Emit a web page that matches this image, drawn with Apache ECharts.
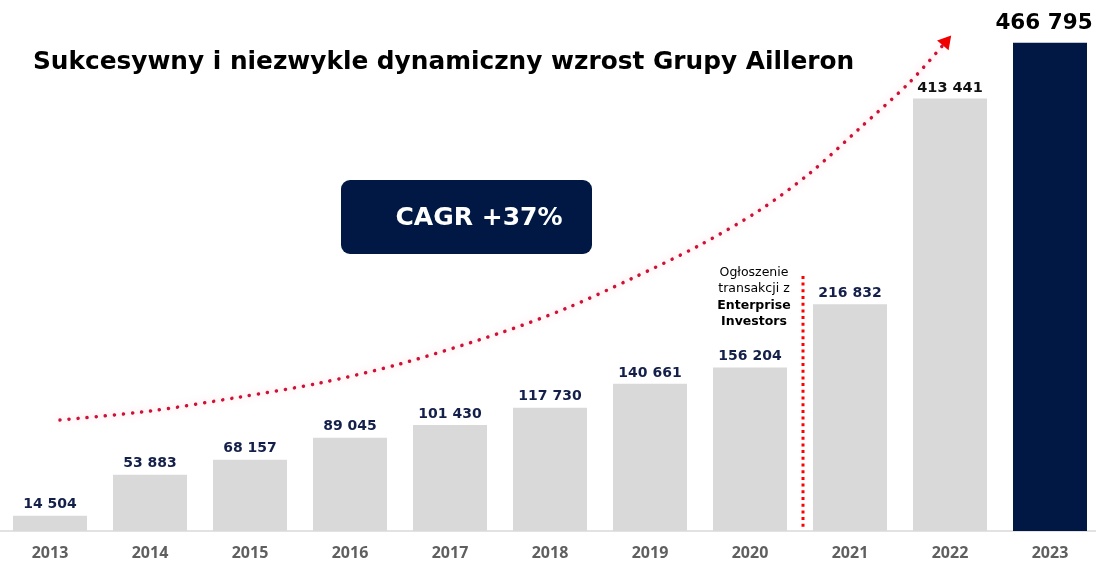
<!DOCTYPE html>
<html>
<head>
<meta charset="utf-8">
<script src="https://cdn.jsdelivr.net/npm/echarts@6/dist/echarts.min.js"></script>
<style>
html,body{margin:0;padding:0;background:#fff;overflow:hidden;}
#chart{width:1096px;height:561px;}
</style>
</head>
<body>
<div id="chart"></div>
<script>
// ---- data ----
const years = ['2013','2014','2015','2016','2017','2018','2019','2020','2021','2022','2023'];
const revenue = [14504, 53883, 68157, 89045, 101430, 117730, 140661, 156204, 216832, 413441, 466795];
const titleText = 'Sukcesywny i niezwykle dynamiczny wzrost Grupy Ailleron';
const cagrText = 'CAGR +37%';
const noteLines = ['Ogłoszenie', 'transakcji z', 'Enterprise', 'Investors'];
// trend arrow path, in (category position, value) units
const trendX = [0.10, 1.0, 1.9, 2.7, 3.5, 4.5, 5.17, 5.83, 6.5, 7.1, 7.6, 8.1, 8.6, 8.97];
const trendY = [106100, 114700, 128100, 141500, 159700, 189300, 213200, 241900, 273400, 306900, 342200, 385300, 429300, 469000];
// event marker (between 2020 and 2021)
const eventX = 7.53;
const eventY = [4000, 246000];

const fmt = v => String(v).replace(/\B(?=(\d{3})+(?!\d))/g, ' ');
const NAVY = '#011844';
const MONT = '"DejaVu Sans", sans-serif';

const barData = revenue.map((v, i) => {
  const last = i === revenue.length - 1;
  const item = { value: v };
  if (last) {
    item.itemStyle = { color: NAVY };
    item.label = { fontSize: 21.5, color: '#000', distance: 8, offset: [-6, 0] };
  } else if (i === revenue.length - 2) {
    item.label = { fontSize: 14.5, color: '#111', distance: 3 };
  }
  return item;
});

const trendData = trendX.map((x, i) => {
  const p = { value: [x, trendY[i]] };
  if (i === trendX.length - 1) {
    p.symbol = 'triangle';
    p.symbolSize = [15, 13];
    p.symbolRotate = -40;
    p.itemStyle = { color: '#f00000' };
  }
  return p;
});

const chart = echarts.init(document.getElementById('chart'), null, { renderer: 'canvas' });
chart.setOption({
  animation: false,
  backgroundColor: '#fff',
  title: {
    text: titleText,
    left: 28, top: 45,
    textStyle: { fontFamily: MONT, fontWeight: 'bold', fontSize: 24.8, color: '#000' }
  },
  grid: { left: 0, width: 1100, top: 8, bottom: 30, containLabel: false, outerBoundsMode: 'none' },
  xAxis: [
    {
      type: 'category', data: years,
      axisTick: { show: false },
      axisLine: { lineStyle: { color: '#d9d9d9', width: 1.5 } },
      axisLabel: { fontFamily: '"Open Sans", sans-serif', fontWeight: 'bold', fontSize: 16, color: '#5f5f5f', margin: 14 }
    },
    { type: 'value', min: -0.5, max: 10.5, show: false }
  ],
  yAxis: { type: 'value', min: 0, max: 500000, show: false },
  series: [
    {
      type: 'bar', data: barData, barWidth: 74, xAxisIndex: 0,
      itemStyle: { color: '#d9d9d9' },
      label: {
        show: true, position: 'top', distance: 4,
        fontFamily: MONT, fontWeight: 'bold', fontSize: 14, color: '#14204a',
        formatter: p => fmt(p.value)
      },
      z: 2
    },
    {
      type: 'line', xAxisIndex: 1, data: trendData, smooth: 0.3,
      symbol: 'none', showSymbol: true,
      lineStyle: {
        color: '#cc1238', width: 3.5, type: [0.1, 9], cap: 'round',
        shadowColor: 'rgba(255,60,90,0.35)', shadowBlur: 7
      },
      z: 5, silent: true
    },
    {
      type: 'line', xAxisIndex: 1,
      data: eventY.map(y => [eventX, y]),
      symbol: 'none',
      lineStyle: { color: '#ff0000', width: 3, type: [3, 3.7] },
      z: 4, silent: true
    }
  ],
  graphic: [
    {
      type: 'rect', left: 341, top: 180,
      shape: { width: 251, height: 74, r: 9 },
      style: { fill: NAVY }
    },
    {
      type: 'text', x: 479, y: 218,
      style: {
        text: cagrText, fill: '#fff', font: 'bold 25px "DejaVu Sans"',
        textAlign: 'center', textVerticalAlign: 'middle'
      }
    },
    {
      type: 'text', x: 754, y: 264,
      style: {
        text: '{n|' + noteLines[0] + '}\n{n|' + noteLines[1] + '}\n{b|' + noteLines[2] + '}\n{b|' + noteLines[3] + '}',
        textAlign: 'center', textVerticalAlign: 'top',
        rich: {
          n: { fontFamily: MONT, fontSize: 12.5, color: '#222', lineHeight: 16.5 },
          b: { fontFamily: MONT, fontSize: 12.5, fontWeight: 'bold', color: '#111', lineHeight: 16.5 }
        }
      }
    }
  ]
});
</script>
</body>
</html>
